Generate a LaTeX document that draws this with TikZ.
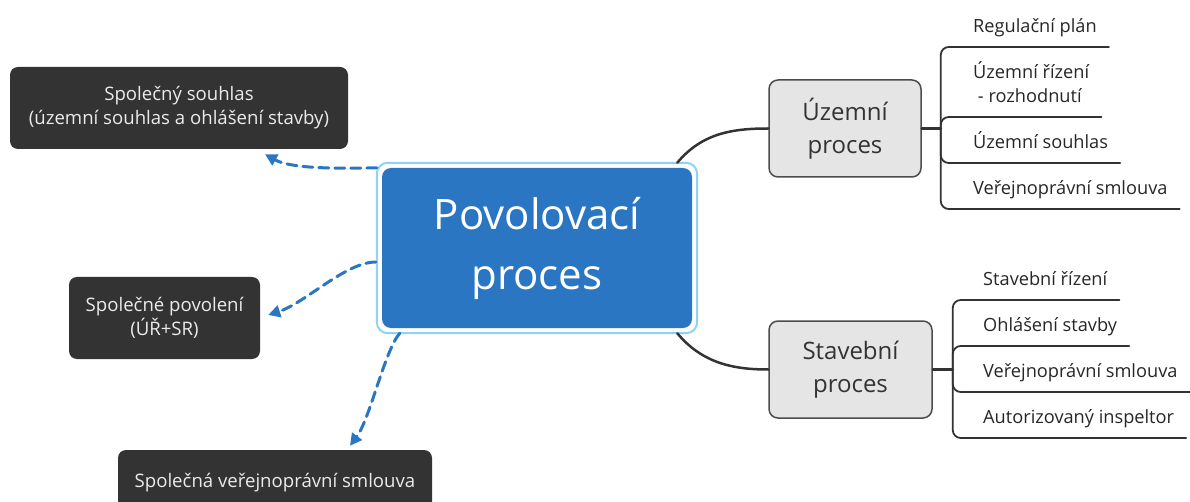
\documentclass[tikz,border=0pt]{standalone}
\usepackage{fontspec}
\setmainfont{Open Sans}
\usetikzlibrary{arrows.meta}
\definecolor{povblue}{HTML}{2A76C2}
\definecolor{ringblue}{HTML}{8ED3F7}
\definecolor{boxdark}{HTML}{333333}
\definecolor{boxgray}{HTML}{E5E5E5}

\begin{document}
\begin{tikzpicture}[x=1pt,y=-1pt,line cap=round,line join=round,
    hlavni/.style={fill=povblue,text=white,rounded corners=9pt,minimum width=310pt,minimum height=160pt,align=center,font=\fontsize{42}{60}\selectfont},
    tmavy/.style={fill=boxdark,text=white!92!black,rounded corners=8pt,align=center,minimum height=82pt,font=\fontsize{18.6}{24}\selectfont},
    sedy/.style={draw=black!70,line width=1.5pt,fill=boxgray,text=black!80,rounded corners=9pt,align=center,minimum height=97pt,font=\fontsize{24}{33}\selectfont},
    polozka/.style={anchor=south west,inner xsep=6pt,inner ysep=14pt,text depth=0pt,align=left,text=black!85,font=\fontsize{18.2}{24}\selectfont},
    spoj/.style={draw=black!80,line width=2.5pt},
    vetev/.style={draw=black!80,line width=1.8pt,rounded corners=8pt},
    odkaz/.style={draw=povblue,line width=3pt,dash pattern=on 10pt off 6pt,-{Triangle[length=12pt,width=12pt]}}]
    \useasboundingbox (0,0) rectangle (1190,502);
    \clip (0,0) rectangle (1190,502);

    % stred
    \node[hlavni] (pv) at (537,248) {Povolovací\\proces};
    \draw[ringblue,line width=2pt,rounded corners=11pt] ([shift={(-5,-5)}]pv.north west) rectangle ([shift={(5,5)}]pv.south east);

    % leva strana
    \node[tmavy,minimum width=338pt] (sj) at (179,108) {Společný souhlas\\(územní souhlas a ohlášení stavby)};
    \node[tmavy,minimum width=191pt] (sp) at (164.5,318) {Společné povolení\\(ÚŘ+SR)};
    \node[tmavy,minimum width=314pt,minimum height=66pt] (sv) at (275,483) {Společná veřejnoprávní smlouva};
    \draw[odkaz] ([xshift=-5pt]pv.north west) .. controls +(-47,1) and +(25,14) .. ([shift={(86,5)}]sj.south);
    \draw[odkaz] ([shift={(-6,14)}]pv.west) .. controls +(-30,0) and +(37,-12) .. ([shift={(8,-3)}]sp.east);
    \draw[odkaz] ([shift={(18,5)}]pv.south west) .. controls +(-15,17) and +(20,-27) .. ([shift={(75,-4)}]sv.north);

    % prava strana
    \node[sedy,minimum width=152pt] (uz) at (845,128.5) {Územní\\proces};
    \node[sedy,minimum width=163pt] (st) at (850.5,369.5) {Stavební\\proces};
    \draw[spoj] ([shift={(-15,-5)}]pv.north east) .. controls +(25,-30) and +(-35,0) .. (uz.west);
    \draw[spoj] ([shift={(-15,5)}]pv.south east) .. controls +(25,30) and +(-35,0) .. (st.west);

    % uzemni proces
    \draw[spoj] (uz.east) -- ++(19,0) coordinate (uzj);
    \node[polozka] (u1) at (967,47) {Regulační plán};
    \node[polozka] (u2) at (967,117) {Územní řízení\\\ - rozhodnutí};
    \node[polozka] (u3) at (967,163) {Územní souhlas};
    \node[polozka] (u4) at (967,209) {Veřejnoprávní smlouva};
    \draw[vetev] (uzj) |- ([xshift=6pt]u1.south east);
    \draw[vetev] (uzj) |- ([xshift=6pt]u2.south east);
    \draw[vetev] (uzj) |- ([xshift=6pt]u3.south east);
    \draw[vetev] (uzj) |- ([xshift=6pt]u4.south east);

    % stavebni proces
    \draw[spoj] (st.east) -- ++(20,0) coordinate (stj);
    \node[polozka] (s1) at (977,300) {Stavební řízení};
    \node[polozka] (s2) at (977,346) {Ohlášení stavby};
    \node[polozka] (s3) at (977,392) {Veřejnoprávní smlouva};
    \node[polozka] (s4) at (977,438) {Autorizovaný inspeltor};
    \draw[vetev] (stj) |- ([xshift=6pt]s1.south east);
    \draw[vetev] (stj) |- ([xshift=6pt]s2.south east);
    \draw[vetev] (stj) |- ([xshift=6pt]s3.south east);
    \draw[vetev] (stj) |- ([xshift=6pt]s4.south east);
\end{tikzpicture}
\end{document}
